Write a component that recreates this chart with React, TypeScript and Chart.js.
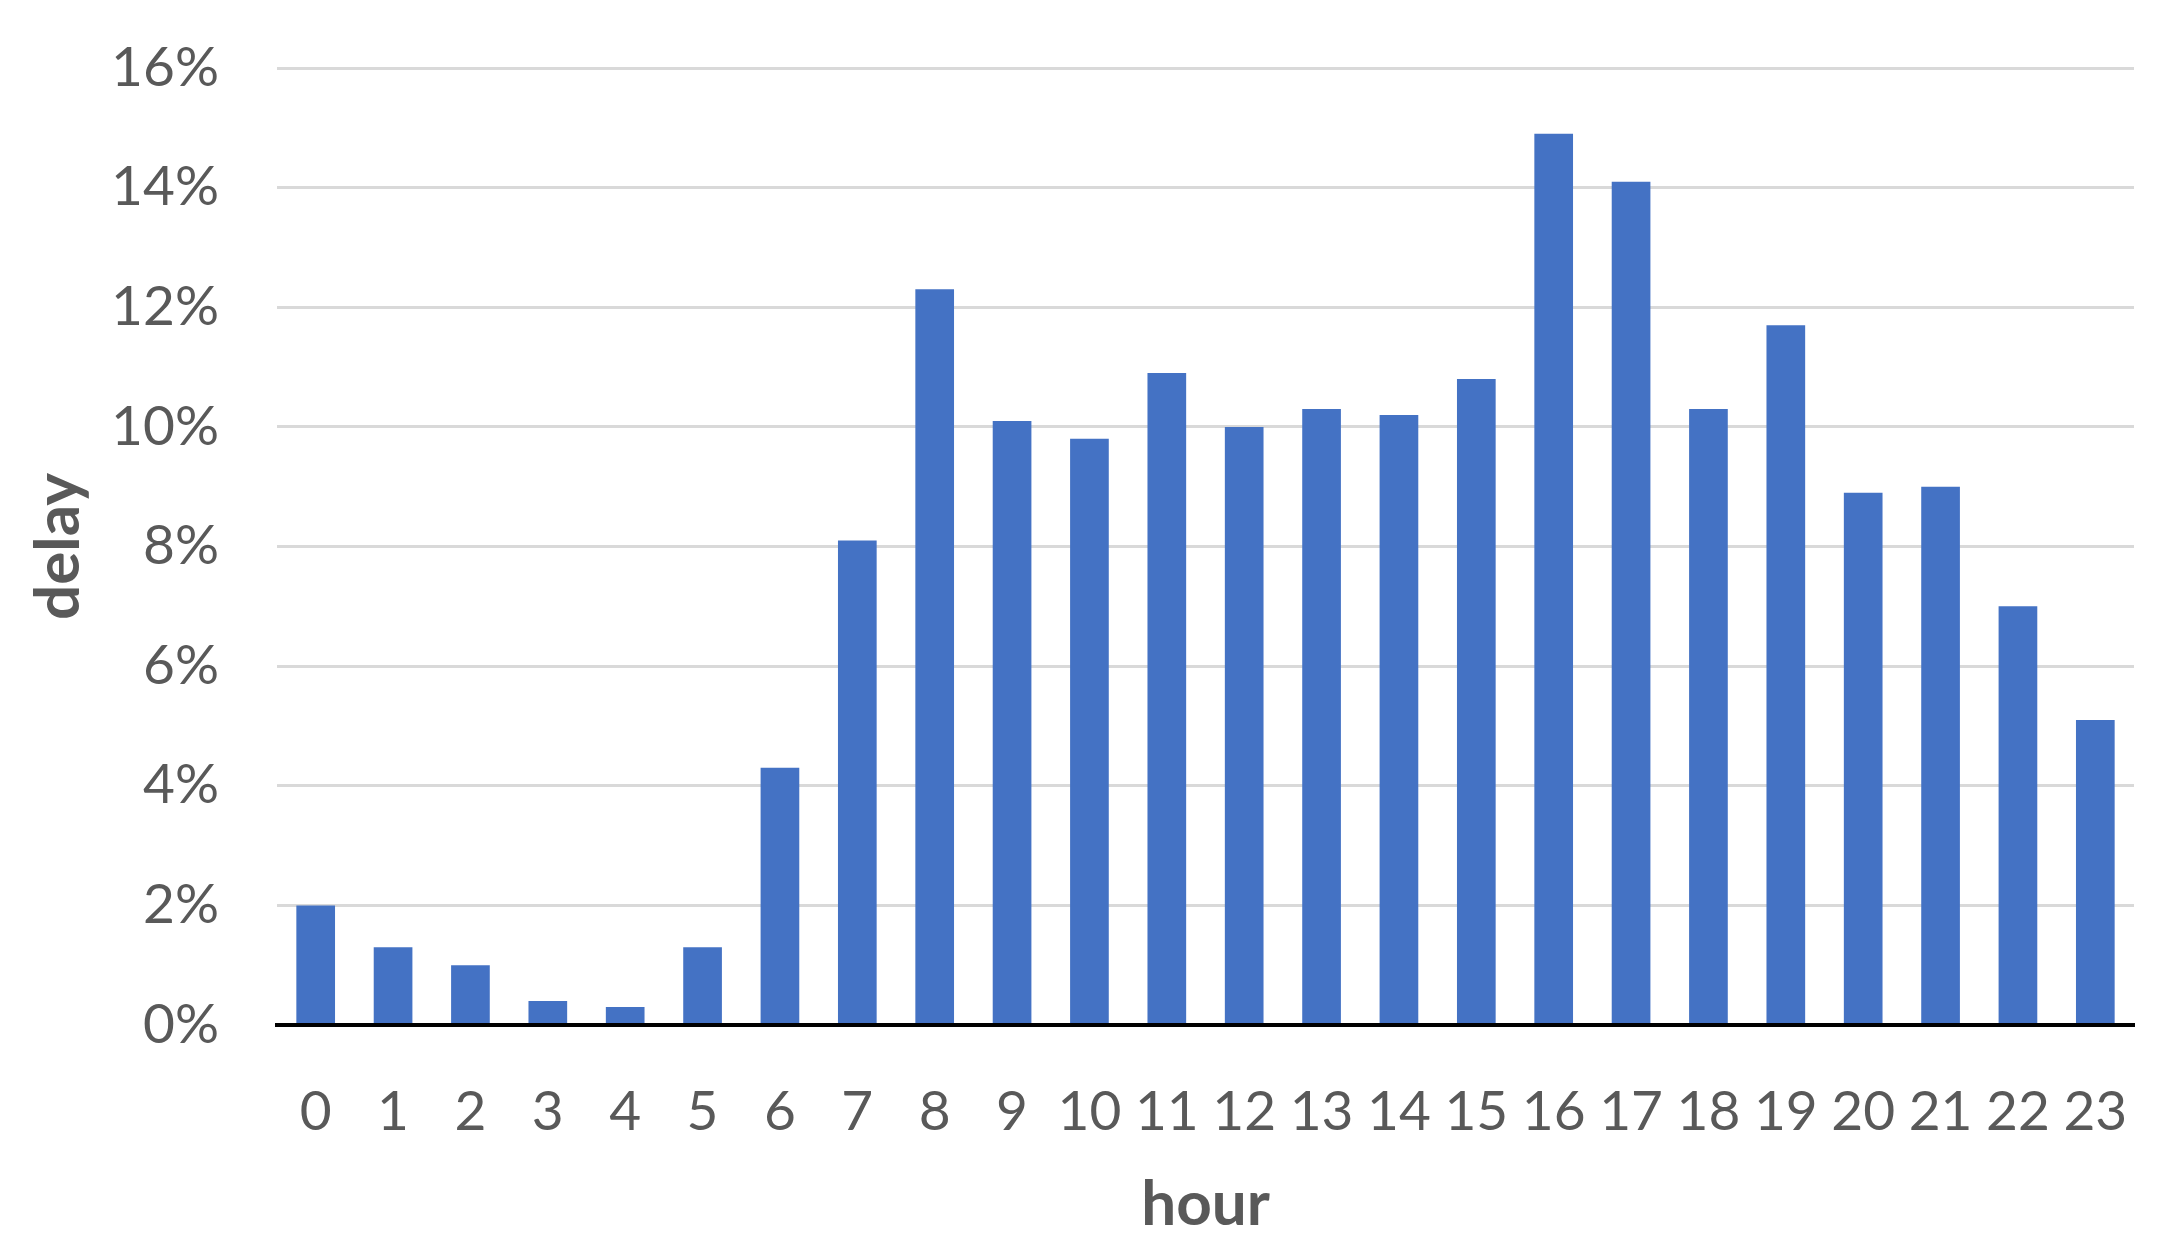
import React, { useEffect, useRef } from "react";
import { Chart, registerables } from "chart.js";

Chart.register(...registerables);

const hours: string[] = [
  "0", "1", "2", "3", "4", "5", "6", "7", "8", "9", "10", "11",
  "12", "13", "14", "15", "16", "17", "18", "19", "20", "21", "22", "23",
];
const delayPct: number[] = [
  2.0, 1.3, 1.0, 0.4, 0.3, 1.3, 4.3, 8.1, 12.3, 10.1, 9.8, 10.9,
  10.0, 10.3, 10.2, 10.8, 14.9, 14.1, 10.3, 11.7, 8.9, 9.0, 7.0, 5.1,
];
const yTickMax = 16;
const yTickStep = 2;
const xTitle = "hour";
const yTitle = "delay";

const W = 2173;
const H = 1255;
const FONT = "Lato, 'DejaVu Sans', sans-serif";
const TEXT = "#595959";

export default function App() {
  const ref = useRef<HTMLCanvasElement | null>(null);
  useEffect(() => {
    document.body.style.margin = "0";
    const canvas = ref.current!;
    const chart = new Chart(canvas, {
      type: "bar",
      data: {
        labels: hours,
        datasets: [
          {
            label: yTitle,
            data: delayPct,
            backgroundColor: "#4472C4",
            borderWidth: 0,
            barPercentage: 0.5,
            categoryPercentage: 1.0,
          },
        ],
      },
      options: {
        responsive: false,
        animation: false,
        maintainAspectRatio: false,
        layout: { padding: { left: 0, right: 39, top: 68, bottom: 0 } },
        plugins: {
          legend: { display: false },
          tooltip: { enabled: false },
        },
        scales: {
          x: {
            grid: { display: false, drawTicks: false },
            border: { display: true, color: "#000000", width: 4, z: 1 },
            ticks: {
              color: TEXT,
              font: { family: FONT, size: 55 },
              padding: 54,
              maxRotation: 0,
              autoSkip: false,
            },
            title: {
              display: true,
              text: xTitle,
              color: TEXT,
              font: { family: FONT, size: 62, weight: "bold" },
              padding: { top: 0, bottom: 13 },
            },
            afterFit: (s: any) => {
              s.height = 230;
              s.paddingLeft = 0;
              s.paddingRight = 0;
            },
          },
          y: {
            min: 0,
            max: yTickMax,
            grid: { color: "#D9D9D9", lineWidth: 3, drawTicks: false },
            border: { display: false },
            ticks: {
              stepSize: yTickStep,
              color: TEXT,
              font: { family: FONT, size: 55 },
              padding: 58,
              callback: (v: any) => v + "%",
            },
            title: {
              display: true,
              text: yTitle,
              color: TEXT,
              font: { family: FONT, size: 62, weight: "bold" },
              padding: { top: 22, bottom: 0 },
            },
            afterFit: (s: any) => {
              s.width = 277;
              s.paddingTop = 0;
              s.paddingBottom = 0;
            },
          },
        },
      },
    });
    return () => chart.destroy();
  }, []);
  return (
    <div style={{ position: "absolute", left: 0, top: 0, width: W, height: H, background: "#fff" }}>
      <canvas ref={ref} width={W} height={H} style={{ width: W, height: H, display: "block" }} />
    </div>
  );
}
